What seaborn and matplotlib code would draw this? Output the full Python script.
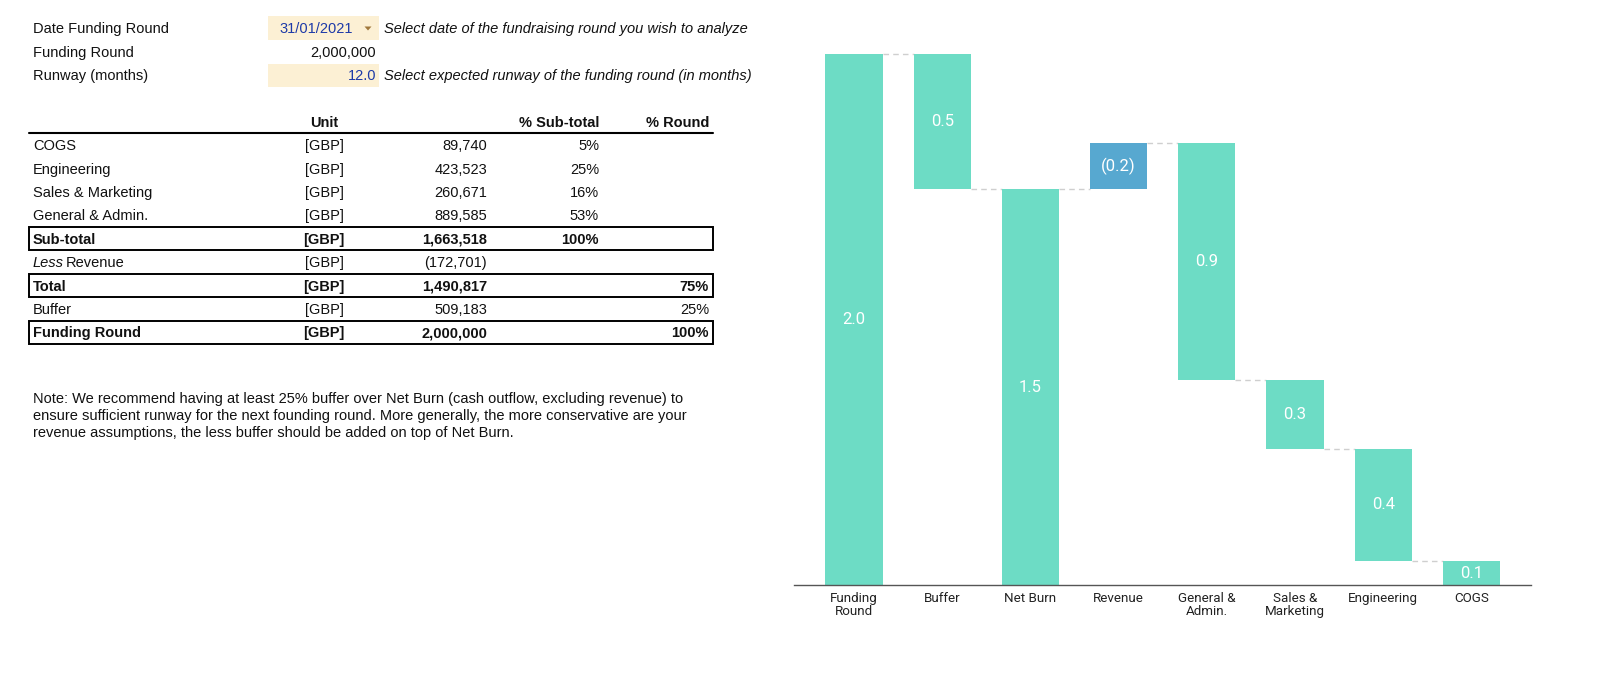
import matplotlib
matplotlib.use("Agg")
import matplotlib.pyplot as plt
from matplotlib.patches import Rectangle, Polygon
import seaborn as sns
import pandas as pd

# ---------------- data ----------------
categories = ["Funding\nRound", "Buffer", "Net Burn", "Revenue",
              "General &\nAdmin.", "Sales &\nMarketing", "Engineering", "COGS"]
amounts = [2000000, 509183, 1490817, 172701, 889585, 260671, 423523, 89740]
kinds = ["total", "decrease", "total", "increase",
         "decrease", "decrease", "decrease", "decrease"]

row_labels = ["COGS", "Engineering", "Sales & Marketing", "General & Admin.",
              "Sub-total", "Less Revenue", "Total", "Buffer", "Funding Round"]
row_units = ["[GBP]"] * 9
row_amounts = [89740, 423523, 260671, 889585, 1663518, -172701, 1490817, 509183, 2000000]
row_pct_sub = ["5%", "25%", "16%", "53%", "100%", "", "", "", ""]
row_pct_round = ["", "", "", "", "", "", "75%", "25%", "100%"]
bold_rows = [4, 6, 8]

input_labels = ["Date Funding Round", "Funding Round", "Runway (months)"]
input_values = ["31/01/2021", "2,000,000", "12.0"]
input_notes = ["Select date of the fundraising round you wish to analyze", "",
               "Select expected runway of the funding round (in months)"]
note_lines = [
    "Note: We recommend having at least 25% buffer over Net Burn (cash outflow, excluding revenue) to",
    "ensure sufficient runway for the next founding round. More generally, the more conservative are your",
    "revenue assumptions, the less buffer should be added on top of Net Burn.",
]

TEAL = "#6ddcc5"
BLUE = "#57a8d0"

# ---------------- setup ----------------
sns.set_style("white")
plt.rcParams["font.family"] = ["Liberation Sans", "DejaVu Sans"]

W, H = 1600, 695
fig = plt.figure(figsize=(W / 100, H / 100), dpi=100)
fig.patch.set_facecolor("white")


def fx(x):
    return x / W


def fy(y):
    return 1 - y / H


TFS = 10.5
BASE_OFF = 5.2  # pixels from visual centre to baseline


def T(x, y, s, ha="left", **kw):
    kw.setdefault("fontsize", TFS)
    kw.setdefault("color", "#111111")
    fig.text(fx(x), fy(y + BASE_OFF), s, ha=ha, va="baseline", **kw)


# ---------------- top inputs ----------------
for (y0, y1) in [(16, 40), (64, 87)]:
    fig.patches.append(Rectangle((fx(268), fy(y1)), (379 - 268) / W, (y1 - y0) / H,
                                 transform=fig.transFigure, facecolor="#fcf0d4",
                                 edgecolor="none", zorder=0))
input_y = [28, 51.5, 75]
for i, (lab, val, note) in enumerate(zip(input_labels, input_values, input_notes)):
    T(33, input_y[i], lab)
    if i == 0:
        T(353, input_y[i], val, ha="right", color="#1d3aa8")
    elif i == 1:
        T(376, input_y[i], val, ha="right")
    else:
        T(376, input_y[i], val, ha="right", color="#1d3aa8")
    if note:
        T(384, input_y[i], note, style="italic")
# dropdown arrow
fig.patches.append(Polygon([(fx(364.5), fy(26.5)), (fx(371.5), fy(26.5)), (fx(368), fy(30.5))],
                           closed=True, transform=fig.transFigure,
                           facecolor="#a0783c", edgecolor="none", zorder=2))

# ---------------- table ----------------
T(324, 121.5, "Unit", ha="center", weight="bold")
T(599, 121.5, "% Sub-total", ha="right", weight="bold")
T(709, 121.5, "% Round", ha="right", weight="bold")
fig.add_artist(plt.Line2D([fx(29), fx(713)], [fy(133), fy(133)], transform=fig.transFigure,
                          color="black", lw=1.5))

row_y = [145 + 23.4 * i for i in range(9)]


def fmt_amt(v):
    return f"({abs(v):,.0f})" if v < 0 else f"{v:,.0f}"


for i in range(9):
    y = row_y[i]
    w = "bold" if i in bold_rows else "normal"
    if row_labels[i].startswith("Less "):
        T(33, y, "Less", style="italic")
        T(66, y, row_labels[i][5:])
    else:
        T(33, y, row_labels[i], weight=w)
    T(324, y, row_units[i], ha="center", weight=w)
    T(487, y, fmt_amt(row_amounts[i]), ha="right", weight=w)
    if row_pct_sub[i]:
        T(599, y, row_pct_sub[i], ha="right", weight=w)
    if row_pct_round[i]:
        T(709, y, row_pct_round[i], ha="right", weight=w)
    if i in bold_rows:
        fig.patches.append(Rectangle((fx(29), fy(y + 11.5)), (713 - 29) / W, 23 / H,
                                     transform=fig.transFigure, facecolor="none",
                                     edgecolor="black", lw=1.4, zorder=3))

for k, line in enumerate(note_lines):
    T(33, 397.5 + 17.3 * k, line)

# ---------------- waterfall chart ----------------
bottoms, tops, ends = [], [], []
level = 0.0
for amt, kind in zip(amounts, kinds):
    v = amt / 1e6
    if kind == "total":
        b, t = 0.0, v
        level = v
    elif kind == "decrease":
        b, t = level - v, level
        level = b
    else:
        b, t = level, level + v
        level = t
    bottoms.append(b)
    tops.append(t)
    ends.append(level)

heights = [t - b for b, t in zip(bottoms, tops)]
colors = [BLUE if k == "increase" else TEAL for k in kinds]
df = pd.DataFrame({"category": categories, "height": heights})

ax = fig.add_axes([794 / W, (H - 585) / H, (1531 - 794) / W, (585 - 40.7) / H])
BW = 0.65
sns.barplot(data=df, x="category", y="height", hue="category", palette=colors,
            legend=False, width=BW, saturation=1, ax=ax, zorder=2)
for patch, b in zip(ax.patches, bottoms):
    patch.set_y(b)
    patch.set_edgecolor("none")

# connectors
for i in range(len(categories) - 1):
    lv = ends[i]
    ax.plot([i + BW / 2, i + 1 - BW / 2], [lv, lv], color="#cfcfcf", lw=1,
            ls=(0, (4, 3)), zorder=1)

# value labels
for i, (b, t, amt, kind) in enumerate(zip(bottoms, tops, amounts, kinds)):
    v = amt / 1e6
    lab = f"({v:.1f})" if kind == "increase" else f"{v:.1f}"
    ax.text(i, (b + t) / 2, lab, ha="center", va="center", color="white",
            fontsize=12, family=["Roboto", "DejaVu Sans"], zorder=3)

ax.set_xlim(-0.68, 7.675)
ax.set_ylim(0, 2.05)
ax.set_xlabel("")
ax.set_ylabel("")
ax.set_yticks([])
for s in ["top", "right", "left"]:
    ax.spines[s].set_visible(False)
ax.spines["bottom"].set_color("#555555")
ax.spines["bottom"].set_linewidth(1)
ax.tick_params(axis="x", length=0, pad=5)
for t in ax.get_xticklabels():
    t.set_fontfamily(["Roboto", "DejaVu Sans"])
    t.set_fontsize(9.6)
    t.set_color("#222222")
    t.set_linespacing(1.05)
ax.set_facecolor("none")

fig.savefig("out.png", dpi=100, facecolor="white")
